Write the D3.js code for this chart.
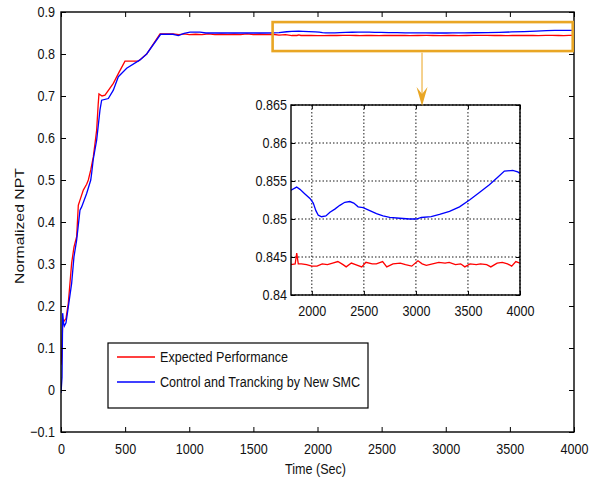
<!DOCTYPE html>
<html><head><meta charset="utf-8">
<script src="https://cdn.jsdelivr.net/npm/d3@7"></script>
<style>
body{margin:0;background:#fff;}
text{font-family:"Liberation Sans",Arial,sans-serif;fill:#111;}
</style></head>
<body><svg id="c" width="596" height="479"></svg>
<script>
// ---------- data ----------
const redT = [0,5,13,26,39,57,83,101,122,135,148,174,200,213,232,252,265,278,290,296,320,343,408,450,499,603,668,772,873,920,960,1000,1050,1100,1150,1200,1250,1300,1350,1400,1450,1500,1550,1600,1650,1700,1750,
  1800,1840,1855,1870,1900,1950,2000,2050,2100,2150,2200,2250,2300,2330,2380,2420,2480,2520,2580,2620,2680,2720,2780,2850,2900,2960,3020,3060,3100,3160,3220,3280,3320,3380,3430,3470,3520,3580,3620,3680,3720,3780,3830,3880,3920,3960,4000];
const redV = [0.06,0.08,0.159,0.165,0.17,0.207,0.302,0.34,0.365,0.44,0.452,0.476,0.49,0.50,0.524,0.555,0.587,0.619,0.68,0.705,0.70,0.702,0.73,0.755,0.783,0.783,0.80,0.848,0.848,0.846,0.848,0.846,0.847,0.846,0.848,0.846,0.847,0.846,0.847,0.846,0.848,0.846,0.847,0.846,0.847,0.845,0.846,
  0.8440,0.8441,0.8455,0.8441,0.8441,0.8440,0.8438,0.8438,0.8441,0.8440,0.8442,0.8444,0.8440,0.8437,0.8442,0.8440,0.8437,0.8443,0.8441,0.8441,0.8444,0.8437,0.8441,0.8442,0.8440,0.8438,0.8445,0.8441,0.8439,0.8441,0.8443,0.8442,0.8443,0.8440,0.8441,0.8437,0.8441,0.8440,0.8441,0.8440,0.8437,0.8442,0.8443,0.8441,0.8438,0.8444,0.8442];
const blueT = [0,8,13,20,26,39,57,83,101,122,148,161,200,232,239,252,278,304,317,369,408,447,512,616,668,777,873,915,960,1006,1084,1130,1300,1500,1600,1700,1760,
  1800,1854,1886,1934,1982,2014,2039,2062,2094,2135,2174,2221,2269,2317,2365,2403,2445,2493,2557,2621,2684,2748,2844,2940,3004,3052,3147,3227,3323,3419,3515,3610,3706,3786,3850,3930,3978,4000];
const blueV = [-0.007,0.03,0.183,0.16,0.152,0.16,0.198,0.254,0.317,0.357,0.428,0.436,0.468,0.50,0.516,0.55,0.595,0.667,0.69,0.694,0.714,0.746,0.766,0.786,0.80,0.847,0.847,0.844,0.849,0.852,0.852,0.850,0.850,0.850,0.850,0.851,0.853,
  0.8538,0.8542,0.8539,0.8533,0.8527,0.8521,0.8511,0.8505,0.8503,0.8504,0.8509,0.8513,0.8518,0.8522,0.8523,0.8521,0.8516,0.8515,0.8511,0.8507,0.8504,0.8502,0.8501,0.8500,0.8500,0.8502,0.8503,0.8506,0.8510,0.8516,0.8525,0.8535,0.8545,0.8555,0.8563,0.8564,0.8562,0.8560];
const seriesNames = ["Expected Performance","Control and Trancking by New SMC"];
const seriesColors = ["#ff0000","#0000ff"];
const mainXTicks = [0,500,1000,1500,2000,2500,3000,3500,4000];
const mainYTicks = [-0.1,0,0.1,0.2,0.3,0.4,0.5,0.6,0.7,0.8,0.9];
const insetXTicks = [2000,2500,3000,3500,4000];
const insetYTicks = [0.84,0.845,0.85,0.855,0.86,0.865];
const insetLabels = ["0.84","0.845","0.85","0.855","0.86","0.865"];
const zoomBox = {t0:1650,t1:3990,v0:0.807,v1:0.876};

// ---------- chart ----------
const SX = 0.84; // horizontal condensation of the text
function condense(sel){
  sel.each(function(){
    const t = d3.select(this);
    const x0 = +(t.attr("x")||0);
    const base = t.attr("transform")||"";
    t.attr("transform", `${base} translate(${x0},0) scale(${SX},1) translate(${-x0},0)`);
  });
}
const svg = d3.select("#c");
const M = {l:61,r:574,t:12,b:432};
const x = d3.scaleLinear().domain([0,4000]).range([M.l,M.r]);
const y = d3.scaleLinear().domain([-0.1,0.9]).range([M.b,M.t]);
const red = redT.map((t,i)=>[t,redV[i]]);
const blue = blueT.map((t,i)=>[t,blueV[i]]);

svg.append("clipPath").attr("id","cm").append("rect")
  .attr("x",M.l).attr("y",M.t).attr("width",M.r-M.l).attr("height",M.b-M.t);
const lineM = d3.line().x(d=>x(d[0])).y(d=>y(d[1]));
const gm = svg.append("g").attr("clip-path","url(#cm)");
gm.append("path").datum(red).attr("d",lineM).attr("fill","none").attr("stroke",seriesColors[0]).attr("stroke-width",1.3);
gm.append("path").datum(blue).attr("d",lineM).attr("fill","none").attr("stroke",seriesColors[1]).attr("stroke-width",1.3);

// axes (ticks inside)
const ax = svg.append("g");
ax.append("g").attr("transform",`translate(0,${M.b})`)
  .call(d3.axisBottom(x).tickValues(mainXTicks).tickSizeInner(-5).tickSizeOuter(0).tickPadding(11).tickFormat(d3.format("d")))
  .call(g=>{g.select(".domain").remove();g.selectAll("text").attr("font-size",15).attr("font-family",null).call(condense);});
ax.append("g").attr("transform",`translate(0,${M.t})`)
  .call(d3.axisTop(x).tickValues(mainXTicks).tickSizeInner(-5).tickSizeOuter(0).tickFormat(""))
  .call(g=>g.select(".domain").remove());
ax.append("g").attr("transform",`translate(${M.l},0)`)
  .call(d3.axisLeft(y).tickValues(mainYTicks).tickSizeInner(-5).tickSizeOuter(0).tickPadding(6).tickFormat(d=>d3.format("")(+d.toFixed(1))))
  .call(g=>{g.select(".domain").remove();g.selectAll("text").attr("font-size",15).attr("font-family",null).call(condense);});
ax.append("g").attr("transform",`translate(${M.r},0)`)
  .call(d3.axisRight(y).tickValues(mainYTicks).tickSizeInner(-5).tickSizeOuter(0).tickFormat(""))
  .call(g=>g.select(".domain").remove());
ax.selectAll(".tick line").attr("stroke","#000");
svg.append("rect").attr("x",M.l).attr("y",M.t).attr("width",M.r-M.l).attr("height",M.b-M.t)
  .attr("fill","none").attr("stroke","#000").attr("stroke-width",1.4);

svg.append("text").attr("x",(M.l+M.r)/2-2).attr("y",474).attr("text-anchor","middle").attr("font-size",15).text("Time (Sec)").call(condense);
svg.append("text").attr("transform","translate(24,226) rotate(-90) scale(1,0.84)").attr("text-anchor","middle").attr("font-size",15.8).text("Normalized NPT");

// zoom box
svg.append("rect").attr("x",x(zoomBox.t0)).attr("y",y(zoomBox.v1))
  .attr("width",x(zoomBox.t1)-x(zoomBox.t0)).attr("height",y(zoomBox.v0)-y(zoomBox.v1))
  .attr("fill","none").attr("stroke","#e9a624").attr("stroke-width",2.6);

// inset
const I = {l:291,r:520,t:105,b:295};
const xi = d3.scaleLinear().domain([1800,4000]).range([I.l,I.r]);
const yi = d3.scaleLinear().domain([0.84,0.865]).range([I.b,I.t]);
svg.append("rect").attr("x",I.l).attr("y",I.t).attr("width",I.r-I.l).attr("height",I.b-I.t).attr("fill","#fff");
const gi = svg.append("g");
insetXTicks.forEach(t=>gi.append("line").attr("x1",xi(t)).attr("x2",xi(t)).attr("y1",I.t).attr("y2",I.b)
  .attr("stroke","#000").attr("stroke-width",0.9).attr("stroke-dasharray","1.5,2"));
insetYTicks.forEach(v=>gi.append("line").attr("x1",I.l).attr("x2",I.r).attr("y1",yi(v)).attr("y2",yi(v))
  .attr("stroke","#000").attr("stroke-width",0.9).attr("stroke-dasharray","1.5,2"));
svg.append("clipPath").attr("id","ci").append("rect")
  .attr("x",I.l).attr("y",I.t).attr("width",I.r-I.l).attr("height",I.b-I.t);
const lineI = d3.line().x(d=>xi(d[0])).y(d=>yi(d[1]));
const gil = svg.append("g").attr("clip-path","url(#ci)");
gil.append("path").datum(red.filter(d=>d[0]>=1750)).attr("d",lineI).attr("fill","none").attr("stroke",seriesColors[0]).attr("stroke-width",1.3);
gil.append("path").datum(blue.filter(d=>d[0]>=1750)).attr("d",lineI).attr("fill","none").attr("stroke",seriesColors[1]).attr("stroke-width",1.3);

const ai = svg.append("g");
ai.append("g").attr("transform",`translate(0,${I.b})`)
  .call(d3.axisBottom(xi).tickValues(insetXTicks).tickSizeInner(-4).tickSizeOuter(0).tickPadding(10).tickFormat(d3.format("d")))
  .call(g=>{g.select(".domain").remove();g.selectAll("text").attr("font-size",15).attr("font-family",null).call(condense);});
ai.append("g").attr("transform",`translate(0,${I.t})`)
  .call(d3.axisTop(xi).tickValues(insetXTicks).tickSizeInner(-4).tickSizeOuter(0).tickFormat(""))
  .call(g=>g.select(".domain").remove());
ai.append("g").attr("transform",`translate(${I.l},0)`)
  .call(d3.axisLeft(yi).tickValues(insetYTicks).tickSizeInner(-4).tickSizeOuter(0).tickPadding(4).tickFormat((d,i)=>insetLabels[i]))
  .call(g=>{g.select(".domain").remove();g.selectAll("text").attr("font-size",15).attr("font-family",null).call(condense);});
ai.append("g").attr("transform",`translate(${I.r},0)`)
  .call(d3.axisRight(yi).tickValues(insetYTicks).tickSizeInner(-4).tickSizeOuter(0).tickFormat(""))
  .call(g=>g.select(".domain").remove());
ai.selectAll(".tick line").attr("stroke","#000");
svg.append("rect").attr("x",I.l).attr("y",I.t).attr("width",I.r-I.l).attr("height",I.b-I.t)
  .attr("fill","none").attr("stroke","#000").attr("stroke-width",1.4);

// arrow
const axp = x(2815);
const by = y(zoomBox.v0);
svg.append("line").attr("x1",axp).attr("x2",axp).attr("y1",by+1.5).attr("y2",I.t-8)
  .attr("stroke","#f2c672").attr("stroke-width",1.6);
svg.append("path").attr("d",`M${axp},${I.t+1} L${axp-5.5},${I.t-18} L${axp},${I.t-11} L${axp+5.5},${I.t-18} Z`)
  .attr("fill","#e9a624");

// legend
const L = {x:108,y:343,w:260,h:65};
svg.append("rect").attr("x",L.x).attr("y",L.y).attr("width",L.w).attr("height",L.h)
  .attr("fill","#fff").attr("stroke","#000").attr("stroke-width",1.2);
seriesNames.forEach((n,i)=>{
  const yy = 357 + i*25;
  svg.append("line").attr("x1",117).attr("x2",155).attr("y1",yy).attr("y2",yy).attr("stroke",seriesColors[i]).attr("stroke-width",1.3);
  svg.append("text").attr("x",160).attr("y",yy+5.5).attr("font-size",15).text(n).call(condense);
});
</script></body></html>
